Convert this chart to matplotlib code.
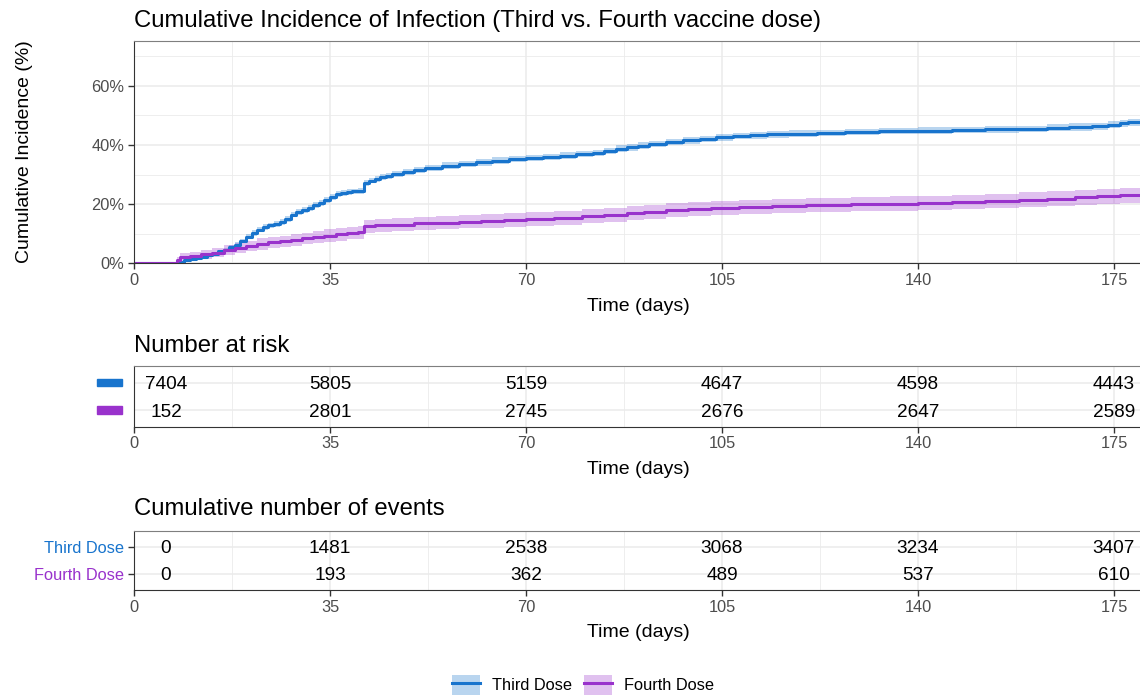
import matplotlib
matplotlib.use("Agg")
import matplotlib.pyplot as plt
import matplotlib.transforms as mtransforms
from matplotlib.lines import Line2D
from matplotlib.patches import Patch, Rectangle
from matplotlib.ticker import MultipleLocator, FuncFormatter

plt.rcParams["font.family"] = ["Liberation Sans", "DejaVu Sans"]

# --- data ---
groups = ["Third Dose", "Fourth Dose"]
colors = ["#1874CD", "#9932CC"]

third_days = [0, 7.2, 8, 9, 10, 11, 12, 13, 14, 15, 16, 17, 18, 19, 20, 21, 22, 23, 24,
              25, 26, 27, 28, 29, 30, 31, 32, 33, 34, 35, 36, 37, 38, 39, 40, 41, 42, 43,
              44, 45, 46, 48, 50, 52, 55, 58, 61, 64, 67, 70, 73, 76, 79, 82, 84, 86, 88,
              90, 92, 95, 98, 101, 104, 107, 110, 113, 117, 122, 127, 133, 140, 146, 152,
              158, 163, 167, 171, 174, 176, 177.5, 180]
third_inc = [0, 0, 0.5, 1.0, 1.5, 1.9, 2.3, 2.8, 3.3, 4.0, 4.6, 5.5, 6.3, 7.5, 9.0, 10.2,
             11.4, 12.2, 12.8, 13.3, 14.0, 15.0, 16.5, 17.2, 18.0, 18.8, 19.6, 20.3, 21.3,
             22.5, 23.4, 23.8, 24.0, 24.3, 24.5, 27.3, 28.0, 28.6, 29.1, 29.6, 30.1, 30.8,
             31.6, 32.3, 33.0, 33.6, 34.1, 34.7, 35.2, 35.6, 36.0, 36.4, 36.9, 37.3, 38.0,
             38.8, 39.2, 39.8, 40.4, 41.0, 41.6, 42.1, 42.6, 43.0, 43.3, 43.6, 43.9, 44.1,
             44.4, 44.7, 44.9, 45.1, 45.3, 45.5, 45.8, 46.1, 46.4, 46.8, 47.3, 47.7, 47.7]
third_ci = [0, 0, 0.2, 0.3, 0.4, 0.4, 0.5, 0.5, 0.6, 0.6, 0.7, 0.7, 0.8, 0.8, 0.9, 0.9,
            0.9, 1.0, 1.0, 1.0, 1.0, 1.0, 1.0, 1.0, 1.0, 1.0, 1.0, 1.0, 1.0, 1.0, 1.0, 1.0,
            1.0, 1.0, 1.0, 1.0, 1.0, 1.0, 1.0, 1.0, 1.0, 1.0, 1.0, 1.0, 1.1, 1.1, 1.1, 1.1,
            1.1, 1.1, 1.1, 1.1, 1.1, 1.1, 1.1, 1.1, 1.1, 1.1, 1.1, 1.1, 1.1, 1.1, 1.1, 1.1,
            1.1, 1.1, 1.1, 1.1, 1.1, 1.1, 1.1, 1.1, 1.1, 1.1, 1.2, 1.2, 1.2, 1.2, 1.2, 1.2,
            1.2]

fourth_days = [0, 7.2, 7.6, 8.2, 10, 12, 14, 16, 18, 20, 22, 24, 26, 28, 30, 32, 34, 36,
               38, 40, 41, 43, 46, 50, 54, 58, 62, 66, 70, 75, 80, 84, 88, 91, 95, 99, 103,
               108, 114, 120, 128, 135, 140, 146, 152, 158, 163, 168, 172, 176, 180]
fourth_inc = [0, 0, 1.2, 2.2, 2.5, 3.0, 3.6, 4.4, 5.2, 5.8, 6.5, 7.1, 7.4, 7.9, 8.4, 8.9,
              9.4, 9.8, 10.2, 10.5, 12.5, 12.8, 13.1, 13.5, 13.8, 14.1, 14.3, 14.6, 14.9,
              15.3, 15.9, 16.3, 16.9, 17.4, 17.9, 18.4, 18.8, 19.1, 19.5, 19.8, 20.0, 20.2,
              20.3, 20.7, 21.1, 21.5, 21.9, 22.3, 22.6, 23.0, 23.0]
fourth_ci = [0, 0, 1.0, 1.3, 1.4, 1.5, 1.6, 1.7, 1.8, 1.8, 1.9, 1.9, 2.0, 2.0, 2.0, 2.1,
             2.1, 2.1, 2.1, 2.2, 2.2, 2.2, 2.2, 2.3, 2.3, 2.3, 2.3, 2.3, 2.3, 2.3, 2.4,
             2.4, 2.4, 2.4, 2.4, 2.4, 2.4, 2.4, 2.4, 2.4, 2.4, 2.4, 2.4, 2.5, 2.5, 2.5,
             2.5, 2.5, 2.5, 2.5, 2.5]

table_days = [0, 35, 70, 105, 140, 175]
risk_third = [7404, 5805, 5159, 4647, 4598, 4443]
risk_fourth = [152, 2801, 2745, 2676, 2647, 2589]
events_third = [0, 1481, 2538, 3068, 3234, 3407]
events_fourth = [0, 193, 362, 489, 537, 610]

W, H = 1140, 698
grid_col = "#EBEBEB"
tick_col = "#4D4D4D"
axis_col = "#333333"


def fx(px):
    return px / W


def fy(py):
    return 1 - py / H


def style_axes(ax):
    ax.set_xlim(0, 180)
    ax.xaxis.set_major_locator(MultipleLocator(35))
    ax.xaxis.set_minor_locator(MultipleLocator(17.5))
    ax.grid(which="major", color=grid_col, lw=1.1)
    ax.grid(which="minor", axis="x", color=grid_col, lw=0.6)
    ax.set_axisbelow(True)
    ax.tick_params(which="minor", length=0)
    ax.tick_params(which="major", length=4, width=1, color=axis_col,
                   labelsize=11.8, labelcolor=tick_col, pad=3)
    ax.spines["right"].set_visible(False)
    ax.spines["top"].set_color("#7F7F7F")
    ax.spines["left"].set_color(axis_col)
    ax.spines["bottom"].set_color(axis_col)
    ax.set_xlabel("Time (days)", fontsize=14, labelpad=7)


fig = plt.figure(figsize=(W / 100, H / 100), dpi=100)
left, width = fx(134), fx(1142 - 134)

# --- main cumulative incidence panel ---
ax = fig.add_axes([left, fy(263.3), width, (263.3 - 40.7) / H])
style_axes(ax)
ax.yaxis.set_major_locator(MultipleLocator(20))
ax.yaxis.set_minor_locator(MultipleLocator(10))
ax.grid(which="minor", axis="y", color=grid_col, lw=0.6)
ax.set_ylim(0, 75.3)
ax.yaxis.set_major_formatter(FuncFormatter(lambda v, p: f"{v:.0f}%"))

series = [(third_days, third_inc, third_ci), (fourth_days, fourth_inc, fourth_ci)]
for (d, v, c), col in zip(series, colors):
    lo = [a - b for a, b in zip(v, c)]
    hi = [a + b for a, b in zip(v, c)]
    ax.fill_between(d, lo, hi, step="post", color=col, alpha=0.3, lw=0)
for (d, v, c), col in zip(series, colors):
    ax.step(d, v, where="post", color=col, lw=2.2)

ax.set_ylabel("Cumulative Incidence (%)", fontsize=14)
ax.yaxis.set_label_coords((33 - 134) / 1008, 0.5)

fig.text(fx(134), fy(26.7), "Cumulative Incidence of Infection (Third vs. Fourth vaccine dose)",
         fontsize=17.2, va="baseline", ha="left")


def table(ax, rows, title, title_base):
    style_axes(ax)
    ax.set_ylim(0.4, 2.6)
    ax.set_yticks([2, 1])
    for yv, vals in zip([2, 1], rows):
        for i, (t, n) in enumerate(zip(table_days, vals)):
            ax.annotate(str(n), xy=(t, yv), xytext=(23 if i == 0 else 0, 0),
                        textcoords="offset points", ha="center", va="center_baseline",
                        fontsize=13.7, color="black")
    fig.text(fx(134), fy(title_base), title, fontsize=17.2, va="baseline", ha="left")


# --- number at risk ---
ax2 = fig.add_axes([left, fy(426.7), width, 60.7 / H])
table(ax2, [risk_third, risk_fourth], "Number at risk", 351.7)
ax2.set_yticklabels(["", ""])
ax2.tick_params(axis="y", length=0)
blend = mtransforms.blended_transform_factory(fig.transFigure, ax2.transData)
for yv, col in zip([2, 1], colors):
    ax2.add_patch(Rectangle((fx(97.3), yv - 0.14), fx(24.4), 0.28, transform=blend,
                            color=col, clip_on=False))

# --- cumulative number of events ---
ax3 = fig.add_axes([left, fy(590), width, (590 - 530.7) / H])
table(ax3, [events_third, events_fourth], "Cumulative number of events", 515)
ax3.set_yticklabels(groups)
for lab, col in zip(ax3.get_yticklabels(), colors):
    lab.set_color(col)

# --- legend ---
handles = [(Patch(facecolor=c, alpha=0.3, lw=0), Line2D([], [], color=c, lw=2.2)) for c in colors]
fig.legend(handles, groups, loc="center", bbox_to_anchor=(fx(583), fy(685)), ncol=2,
           frameon=False, fontsize=11.8, handlelength=1.7, handleheight=1.5,
           handletextpad=0.75, columnspacing=0.7)

fig.savefig("out.png", dpi=100)
